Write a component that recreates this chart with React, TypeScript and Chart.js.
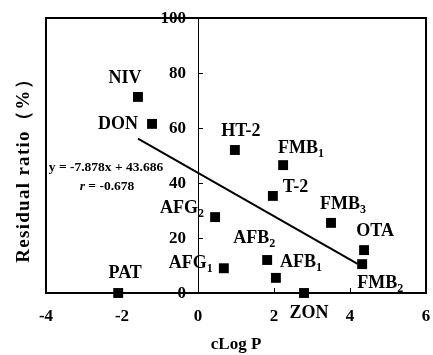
import React, { useEffect, useRef } from "react";
import { Chart, registerables } from "chart.js";

Chart.register(...registerables);

// ---- data ----
const names = ["NIV", "DON", "HT-2", "FMB_1", "T-2", "AFG_2", "FMB_3", "OTA", "FMB_2", "AFB_2", "AFB_1", "AFG_1", "PAT", "ZON"];
const cLogP = [-1.58, -1.21, 0.97, 2.24, 1.97, 0.45, 3.5, 4.37, 4.32, 1.82, 2.05, 0.68, -2.1, 2.79];
const residualRatio = [71.3, 61.5, 52, 46.5, 35.3, 27.6, 25.5, 15.6, 10.5, 12, 5.5, 9, 0, 0];
const trendX = [-1.58, 4.2];
const trendY = [56.1, 10.6];
const xTickValues = [-4, -2, 0, 2, 4, 6];
const yTickValues = [0, 20, 40, 60, 80, 100];
const equationText = "y = -7.878x + 43.686";
const rLabel = "r";
const rValueText = " = -0.678";
const xTitle = "cLog P";
const yTitle = "Residual ratio（%）";

// label placement relative to each marker: [align, dx, dy]
const labelPlacement: [CanvasTextAlign, number, number][] = [
  ["center", -13, -19],
  ["right", -14, 0],
  ["center", 6, -19],
  ["left", -5, -17],
  ["left", 10, -9],
  ["right", -11, -9],
  ["left", -11, -19],
  ["center", 11, -19],
  ["left", -5, 19],
  ["right", 8, -22],
  ["left", 4, -16],
  ["right", -11, -5],
  ["center", 7, -20],
  ["center", 5, 20],
];

const SERIF = "'Liberation Serif', 'Times New Roman', serif";

const overlayPlugin = {
  id: "overlay",
  afterDraw(chart: any) {
    const ctx: CanvasRenderingContext2D = chart.ctx;
    const { left, right, top, bottom } = chart.chartArea;
    const xs = chart.scales.x;
    const ys = chart.scales.y;
    ctx.save();
    // frame
    ctx.strokeStyle = "#000";
    ctx.lineWidth = 2;
    ctx.strokeRect(left, top, right - left, bottom - top);
    // inner ticks
    ctx.lineWidth = 1;
    const x0 = xs.getPixelForValue(0);
    ctx.beginPath();
    xs.ticks.forEach((t: any) => {
      const v = t.value;
      if (v <= xs.min || v >= xs.max) return;
      const px = Math.round(xs.getPixelForValue(v)) + 0.5;
      ctx.moveTo(px, bottom);
      ctx.lineTo(px, bottom - 5);
    });
    ys.ticks.forEach((t: any) => {
      const v = t.value;
      if (v <= ys.min || v >= ys.max) return;
      const py = Math.round(ys.getPixelForValue(v)) + 0.5;
      ctx.moveTo(x0, py);
      ctx.lineTo(x0 + 5, py);
    });
    ctx.stroke();

    // y tick labels (left of the centred axis)
    ctx.fillStyle = "#000";
    ctx.font = `bold 17px ${SERIF}`;
    ctx.textAlign = "right";
    ctx.textBaseline = "middle";
    ys.ticks.forEach((t: any) => {
      ctx.fillText(String(t.value), x0 - 12, ys.getPixelForValue(t.value) + 1);
    });

    // point labels
    const mainFont = `bold 18px ${SERIF}`;
    const subFont = `bold 12px ${SERIF}`;
    names.forEach((n, i) => {
      const [align, dx, dy] = labelPlacement[i];
      const px = xs.getPixelForValue(cLogP[i]);
      const py = ys.getPixelForValue(residualRatio[i]);
      const [main, sub] = n.split("_");
      ctx.font = mainFont;
      const wMain = ctx.measureText(main).width;
      ctx.font = subFont;
      const wSub = sub ? ctx.measureText(sub).width : 0;
      const total = wMain + wSub;
      let sx = px + dx;
      if (align === "center") sx -= total / 2;
      else if (align === "right") sx -= total;
      const sy = py + dy;
      ctx.textAlign = "left";
      ctx.font = mainFont;
      ctx.fillText(main, sx, sy);
      if (sub) {
        ctx.font = subFont;
        ctx.fillText(sub, sx + wMain, sy + 6);
      }
    });

    // equation
    ctx.font = `bold 13.5px ${SERIF}`;
    ctx.textAlign = "center";
    ctx.fillText(equationText, 106, 168);
    ctx.font = `bold italic 13.5px ${SERIF}`;
    const wr = ctx.measureText(rLabel).width;
    ctx.font = `bold 13.5px ${SERIF}`;
    const wv = ctx.measureText(rValueText).width;
    const rx = 107 - (wr + wv) / 2;
    ctx.textAlign = "left";
    ctx.font = `bold italic 13.5px ${SERIF}`;
    ctx.fillText(rLabel, rx, 187);
    ctx.font = `bold 13.5px ${SERIF}`;
    ctx.fillText(rValueText, rx + wr, 187);

    // y title
    ctx.translate(24, 166);
    ctx.rotate(-Math.PI / 2);
    ctx.font = `bold 19px ${SERIF}`;
    (ctx as any).letterSpacing = "1.3px";
    ctx.textAlign = "center";
    ctx.fillText(yTitle, 0, 0);
    ctx.restore();
  },
};

export default function App() {
  const ref = useRef<HTMLCanvasElement | null>(null);
  useEffect(() => {
    if (!ref.current) return;
    const tickFont = { family: SERIF, size: 17, weight: "bold" as const };
    const chart = new Chart(ref.current, {
      type: "scatter",
      data: {
        datasets: [
          {
            type: "scatter",
            data: cLogP.map((x, i) => ({ x, y: residualRatio[i] })),
            pointStyle: "rect",
            pointRadius: 7,
            pointHoverRadius: 7,
            backgroundColor: "#000",
            borderColor: "#000",
            borderWidth: 0,
            clip: false as any,
          },
          {
            type: "line",
            data: trendX.map((x, i) => ({ x, y: trendY[i] })),
            borderColor: "#000",
            borderWidth: 2,
            pointRadius: 0,
            fill: false,
            showLine: true,
          } as any,
        ],
      },
      options: {
        animation: false,
        responsive: false,
        maintainAspectRatio: false,
        layout: { padding: { left: 46, right: 5, top: 18, bottom: 0 } },
        plugins: { legend: { display: false }, tooltip: { enabled: false } },
        scales: {
          x: {
            type: "linear",
            min: -4,
            max: 6,
            afterBuildTicks: (s: any) => {
              s.ticks = xTickValues.map((v) => ({ value: v }));
            },
            afterFit: (s: any) => {
              s.height = 62;
            },
            ticks: { font: tickFont, color: "#000", padding: 0 },
            grid: { display: false, drawTicks: true, tickLength: 13 },
            border: { display: false },
            title: { display: true, text: xTitle, font: tickFont, color: "#000", padding: { top: 0, bottom: 0 } },
          },
          y: {
            type: "linear",
            min: 0,
            max: 100,
            position: { x: 0 } as any,
            afterBuildTicks: (s: any) => {
              s.ticks = yTickValues.map((v) => ({ value: v }));
            },
            ticks: { display: false },
            grid: { drawOnChartArea: false, drawTicks: false },
            border: { display: true, color: "#000", width: 1 },
          },
        },
      },
      plugins: [overlayPlugin],
    });
    return () => chart.destroy();
  }, []);
  return (
    <div style={{ position: "fixed", left: 0, top: 0, width: 433, height: 355, background: "#fff" }}>
      <canvas ref={ref} width={433} height={355} style={{ display: "block" }} />
    </div>
  );
}
